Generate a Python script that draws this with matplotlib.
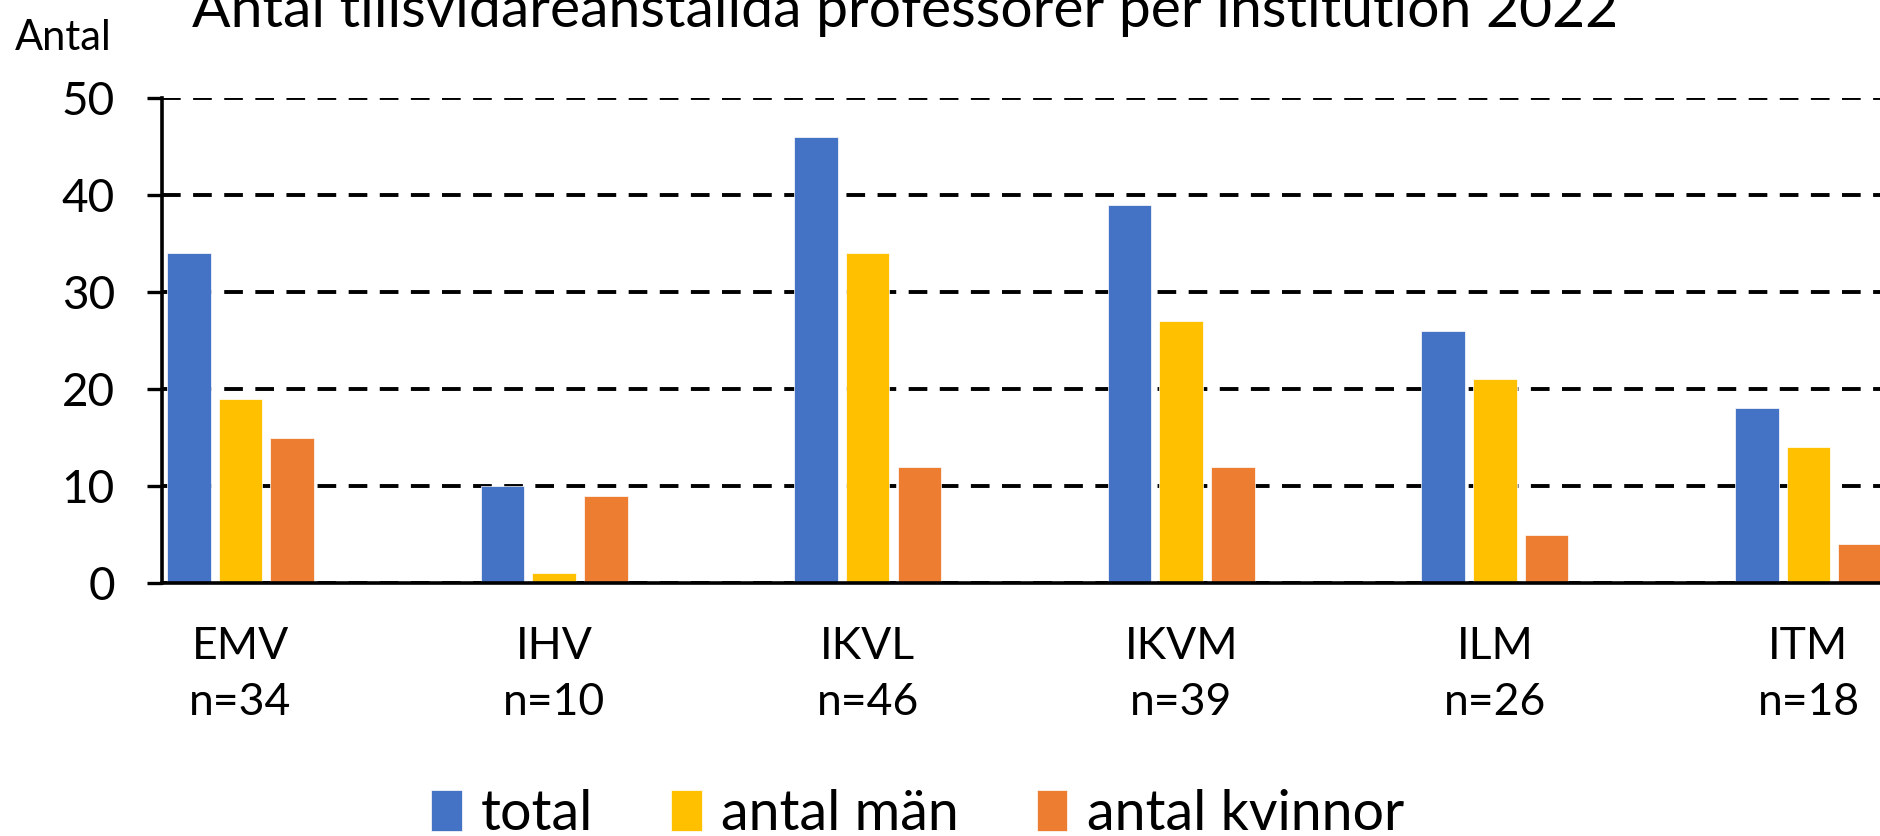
import matplotlib
matplotlib.use("Agg")
from matplotlib import pyplot as plt
import numpy as np

institutions = ["EMV", "IHV", "IKVL", "IKVM", "ILM", "ITM"]
n_labels = ["n=34", "n=10", "n=46", "n=39", "n=26", "n=18"]
total = [34, 10, 46, 39, 26, 18]
men = [19, 1, 34, 27, 21, 14]
women = [15, 9, 12, 12, 5, 4]

plt.rcParams['font.family'] = ['Lato', 'DejaVu Sans']

fig = plt.figure(figsize=(18.8, 8.36), dpi=100)
ax = fig.add_axes([0.0862, 0.3026, 1 - 0.0862, 0.5801])

x = np.arange(len(institutions))
w = 0.139
step = 0.165
b1 = ax.bar(x - step, total, w, color="#4472C4", edgecolor="white", linewidth=0.5, label="total")
b2 = ax.bar(x, men, w, color="#FFC000", edgecolor="white", linewidth=0.5, label="antal män")
b3 = ax.bar(x + step, women, w, color="#ED7D31", edgecolor="white", linewidth=0.5, label="antal kvinnor")

ax.set_xlim(-0.25, 5.228)
ax.set_ylim(0, 50)
ax.set_yticks([0, 10, 20, 30, 40, 50])
ax.set_axisbelow(True)
ax.yaxis.grid(True, color="black", linewidth=2.8, dashes=(4.8, 3.2))

ax.set_xticks(x)
ax.set_xticklabels([a + "\n" + b for a, b in zip(institutions, n_labels)], linespacing=1.45)
ax.tick_params(axis="x", length=0, pad=31, labelsize=32)
ax.tick_params(axis="y", length=11, width=2.4, pad=23, labelsize=33)

for s in ["top", "right"]:
    ax.spines[s].set_visible(False)
for s in ["left", "bottom"]:
    ax.spines[s].set_linewidth(2.6)

fig.text(15 / 1880, 1 - 50 / 836, "Antal", fontsize=30, va="baseline", ha="left")
fig.text(192 / 1880, 1 - 27 / 836, "Antal tillsvidareanställda professorer per institution 2022",
         fontsize=41, va="baseline", ha="left")

fig.legend(handles=[b1, b2, b3], loc="center", bbox_to_anchor=(0.488, 0.026), ncol=3,
           frameon=False, fontsize=40, handlelength=0.55, handleheight=0.75,
           handletextpad=0.35, columnspacing=1.4)

fig.savefig("out.png", dpi=100)
